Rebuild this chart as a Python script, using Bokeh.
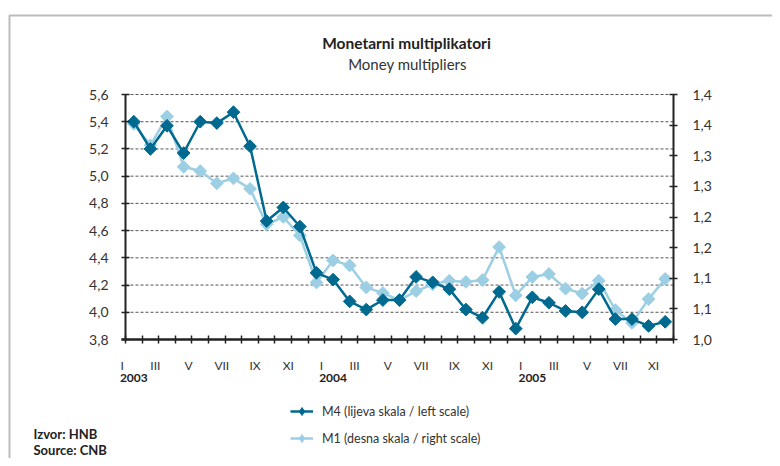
import math
from bokeh.plotting import figure
from bokeh.models import (Range1d, LinearAxis, FixedTicker, CustomJSTickFormatter,
                          Label, Legend, LegendItem, BoxAnnotation)
from bokeh.embed import file_html
from bokeh.resources import INLINE

# ---------------- data ----------------
months = list(range(33))  # Jan 2003 .. Sep 2005
m4 = [5.40, 5.20, 5.37, 5.17, 5.40, 5.39, 5.47, 5.22, 4.67, 4.77, 4.63, 4.29,
      4.24, 4.08, 4.02, 4.09, 4.09, 4.26, 4.22, 4.17, 4.02, 3.96, 4.15, 3.88,
      4.11, 4.07, 4.01, 4.00, 4.17, 3.95, 3.95, 3.90, 3.93]
m1 = [1.352, 1.317, 1.364, 1.282, 1.275, 1.255, 1.263, 1.246, 1.188, 1.200, 1.170, 1.093,
      1.129, 1.121, 1.085, 1.076, 1.064, 1.079, 1.090, 1.096, 1.094, 1.097, 1.151, 1.072,
      1.102, 1.107, 1.083, 1.075, 1.096, 1.048, 1.027, 1.066, 1.099]
month_label_idx = [0, 2, 4, 6, 8, 10, 12, 14, 16, 18, 20, 22, 24, 26, 28, 30, 32]
month_labels = ["I", "III", "V", "VII", "IX", "XI",
                "I", "III", "V", "VII", "IX", "XI",
                "I", "III", "V", "VII", "XI"]
year_label_idx = [0, 12, 24]
year_labels = ["2003", "2004", "2005"]
left_ticks = [3.8, 4.0, 4.2, 4.4, 4.6, 4.8, 5.0, 5.2, 5.4, 5.6]
left_tick_labels = ["3,8", "4,0", "4,2", "4,4", "4,6", "4,8", "5,0", "5,2", "5,4", "5,6"]
right_ticks = [1.0, 1.05, 1.1, 1.15, 1.2, 1.25, 1.3, 1.35, 1.4]
right_tick_labels = ["1,0", "1,1", "1,1", "1,2", "1,2", "1,3", "1,3", "1,4", "1,4"]
title_text = "Monetarni multiplikatori"
subtitle_text = "Money multipliers"
m4_name = "M4 (lijeva skala / left scale)"
m1_name = "M1 (desna skala / right scale)"
source_lines = ["Izvor: HNB", "Source: CNB"]

# ---------------- layout (page pixels) ----------------
X0, Y0 = 0, 0            # canvas origin on the page
W, H = 772, 458          # canvas size
AX_LEFT, AX_RIGHT, AX_TOP, AX_BOTTOM = 125, 673, 94, 339


def sx(px):
    return px - X0


def sy(py):
    return (Y0 + H) - py


x_lo, x_hi = -0.5, len(months) - 0.5
y_lo, y_hi = left_ticks[0], left_ticks[-1]
r_lo, r_hi = right_ticks[0], right_ticks[-1]
kx = (x_hi - x_lo) / (AX_RIGHT - AX_LEFT)
x_start = x_lo - (AX_LEFT - X0) * kx
x_end = x_start + W * kx
ky = (y_hi - y_lo) / (AX_BOTTOM - AX_TOP)
y_end = y_hi + (AX_TOP - Y0) * ky
y_start = y_end - H * ky
kr = (r_hi - r_lo) / (AX_BOTTOM - AX_TOP)
r_end = r_hi + (AX_TOP - Y0) * kr
r_start = r_end - H * kr

# ---------------- style ----------------
DARK = "#00698F"
LIGHT = "#9CCFE4"
FONT = "Lato"
AX = "#222222"
TXT = "#333333"

p = figure(width=W, height=H,
           x_range=Range1d(x_start, x_end), y_range=Range1d(y_start, y_end),
           output_backend="svg", toolbar_location=None, title=None, min_border=0)
p.extra_y_ranges = {"m1": Range1d(r_start, r_end)}
p.outline_line_color = None
p.background_fill_color = "white"
p.border_fill_color = "white"
p.xgrid.visible = False
p.ygrid.visible = False

# outer border (top and left visible)
p.add_layout(BoxAnnotation(left=sx(9), right=sx(800), top=sy(15), bottom=sy(500),
                           left_units="screen", right_units="screen",
                           top_units="screen", bottom_units="screen",
                           fill_alpha=0, line_color=AX, line_width=2))

# horizontal dashed grid lines
g_ticks = left_ticks[1:]
p.segment(x0=[x_lo] * len(g_ticks), x1=[x_hi] * len(g_ticks), y0=g_ticks, y1=g_ticks,
          line_color="#555555", line_dash="3 2", line_width=1)

# series (M1 behind, M4 in front)
lr1 = p.line(months, m1, y_range_name="m1", line_color=LIGHT, line_width=2.5)
lg1 = p.scatter(months, m1, y_range_name="m1", marker="diamond", size=8,
                fill_color=LIGHT, line_color=LIGHT)
sr1 = p.scatter(months, m1, y_range_name="m1", marker="square", angle=math.pi / 4,
                size=9, fill_color=LIGHT, line_color=LIGHT)
lr4 = p.line(months, m4, line_color=DARK, line_width=2.5)
lg4 = p.scatter(months, m4, marker="diamond", size=8, fill_color=DARK, line_color=DARK)
sr4 = p.scatter(months, m4, marker="square", angle=math.pi / 4,
                size=9, fill_color=DARK, line_color=DARK)

# x axis (months)
xa = p.xaxis[0]
xa.fixed_location = y_lo
xa.bounds = (x_lo - 0.26, x_hi)
xa.ticker = FixedTicker(ticks=[i - 0.7 for i in month_label_idx],
                        minor_ticks=[i - 0.5 for i in range(len(months) + 1)])
xa.formatter = CustomJSTickFormatter(args=dict(labels=month_labels), code="return labels[index];")
xa.major_tick_in = 0
xa.major_tick_out = 0
xa.minor_tick_in = 4
xa.minor_tick_out = 4
xa.minor_tick_line_color = AX
xa.minor_tick_line_width = 1.5
xa.axis_line_color = AX
xa.axis_line_width = 2.5
xa.major_label_standoff = 14
xa.major_label_text_font = FONT
xa.major_label_text_font_size = "12px"
xa.major_label_text_color = TXT

# year axis
ya = LinearAxis(ticker=FixedTicker(ticks=year_label_idx),
                formatter=CustomJSTickFormatter(args=dict(labels=year_labels), code="return labels[index];"))
ya.fixed_location = y_lo
ya.bounds = (x_lo - 0.26, x_hi)
ya.axis_line_color = None
ya.major_tick_line_color = None
ya.minor_tick_line_color = None
ya.major_tick_in = 0
ya.major_tick_out = 0
ya.major_label_standoff = 34
ya.major_label_text_font = FONT
ya.major_label_text_font_style = "bold"
ya.major_label_text_font_size = "12px"
ya.major_label_text_color = AX
p.add_layout(ya, "below")

# left axis
ly = p.yaxis[0]
ly.fixed_location = x_lo
ly.bounds = (y_lo, y_hi)
ly.ticker = FixedTicker(ticks=left_ticks)
ly.formatter = CustomJSTickFormatter(args=dict(labels=left_tick_labels), code="return labels[index];")
ly.axis_line_color = AX
ly.axis_line_width = 2
ly.major_tick_in = 4
ly.major_tick_out = 4
ly.major_tick_line_color = AX
ly.major_tick_line_width = 1.5
ly.minor_tick_line_color = None
ly.major_label_standoff = 13
ly.major_label_text_font = FONT
ly.major_label_text_font_size = "14px"
ly.major_label_text_color = TXT

# right axis
ry = LinearAxis(y_range_name="m1", ticker=FixedTicker(ticks=right_ticks),
                formatter=CustomJSTickFormatter(args=dict(labels=right_tick_labels), code="return labels[index];"))
ry.fixed_location = x_hi
ry.bounds = (r_lo, r_hi)
ry.axis_line_color = AX
ry.axis_line_width = 2
ry.major_tick_in = 4
ry.major_tick_out = 4
ry.major_tick_line_color = AX
ry.major_tick_line_width = 1.5
ry.minor_tick_line_color = None
ry.major_label_standoff = 15
ry.major_label_text_font = FONT
ry.major_label_text_font_size = "14px"
ry.major_label_text_color = TXT
p.add_layout(ry, "right")

# titles
p.add_layout(Label(x=sx(406), y=sy(42), x_units="screen", y_units="screen", text=title_text,
                   text_align="center", text_baseline="middle", text_font=FONT,
                   text_font_style="bold", text_font_size="15.5px", text_color=AX))
p.add_layout(Label(x=sx(407), y=sy(63), x_units="screen", y_units="screen", text=subtitle_text,
                   text_align="center", text_baseline="middle", text_font=FONT,
                   text_font_size="15px", text_color=TXT))

# source
for k, s in enumerate(source_lines):
    p.add_layout(Label(x=sx(33), y=sy(433 + 16 * k), x_units="screen", y_units="screen", text=s,
                       text_align="left", text_baseline="middle", text_font=FONT,
                       text_font_style="bold", text_font_size="13px", text_color=AX))

# legend
legend = Legend(items=[LegendItem(label=m4_name, renderers=[lr4, lg4]),
                       LegendItem(label=m1_name, renderers=[lr1, lg1])],
                location=(sx(290), sy(448)), orientation="vertical",
                glyph_width=23, glyph_height=20, label_standoff=9, spacing=7,
                padding=0, margin=0, border_line_color=None, background_fill_alpha=0,
                label_text_font=FONT, label_text_font_size="12.5px", label_text_color=TXT,
                label_height=20)
p.add_layout(legend, "center")

open("out.html", "w").write(file_html(p, INLINE))
